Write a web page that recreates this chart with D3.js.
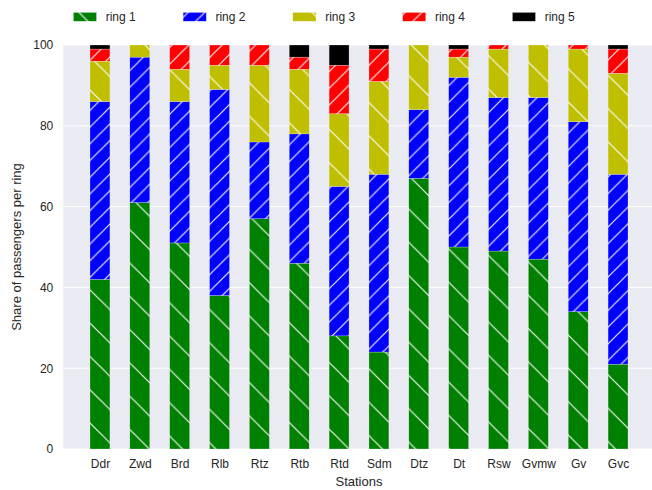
<!DOCTYPE html>
<html>
<head>
<meta charset="utf-8">
<script src="https://cdn.jsdelivr.net/npm/d3@7"></script>
<style>
  html, body { margin: 0; padding: 0; background: #fff; }
  svg { display: block; font-family: "Liberation Sans", Arial, sans-serif; }
</style>
</head>
<body>
<svg id="chart" width="652" height="490"></svg>
<script>
const stations = ["Ddr","Zwd","Brd","Rlb","Rtz","Rtb","Rtd","Sdm","Dtz","Dt","Rsw","Gvmw","Gv","Gvc"];
const ring1 = [42, 61, 51, 38, 57, 46, 28, 24, 67, 50, 49, 47, 34, 21];
const ring2 = [44, 36, 35, 51, 19, 32, 37, 44, 17, 42, 38, 40, 47, 47];
const ring3 = [10,  3,  8,  6, 19, 16, 18, 23, 16,  5, 12, 13, 18, 25];
const ring4 = [ 3,  0,  6,  5,  5,  3, 12,  8,  0,  2,  1,  0,  1,  6];
const ring5 = [ 1,  0,  0,  0,  0,  3,  5,  1,  0,  1,  0,  0,  0,  1];
const seriesNames = ["ring 1","ring 2","ring 3","ring 4","ring 5"];
const yTicks = [0, 20, 40, 60, 80, 100];

(function () {
const seriesValues = [ring1, ring2, ring3, ring4, ring5];
const colors = ["#008000", "#0000ff", "#bfbf00", "#ff0000", "#000000"];
const hatches = ["back", "fwd", "back", "fwd", null];

const svg = d3.select("#chart");
const pLeft = 63.3, pRight = 654.7, pTop = 45, pBottom = 449;

const x = d3.scaleLinear().domain([-0.92, stations.length - 1 + 0.92]).range([pLeft, pRight]);
const y = d3.scaleLinear().domain([0, 100]).range([pBottom, pTop]);
const step = x(1) - x(0);
const barW = step * 0.5;

// hatch patterns
const defs = svg.append("defs");
function makePattern(id, color, kind, s) {
  const p = defs.append("pattern").attr("id", id)
    .attr("patternUnits", "userSpaceOnUse")
    .attr("width", s).attr("height", s);
  p.append("rect").attr("width", s).attr("height", s).attr("fill", color);
  if (kind) {
    const g = p.append("g").attr("stroke", "#ffffff").attr("stroke-width", 1.2).attr("stroke-opacity", 0.92);
    if (kind === "fwd") {
      g.append("line").attr("x1", -1).attr("y1", s + 1).attr("x2", s + 1).attr("y2", -1);
      g.append("line").attr("x1", -1).attr("y1", 1).attr("x2", 1).attr("y2", -1);
      g.append("line").attr("x1", s - 1).attr("y1", s + 1).attr("x2", s + 1).attr("y2", s - 1);
    } else {
      g.append("line").attr("x1", -1).attr("y1", -1).attr("x2", s + 1).attr("y2", s + 1);
      g.append("line").attr("x1", s - 1).attr("y1", -1).attr("x2", s + 1).attr("y2", 1);
      g.append("line").attr("x1", -1).attr("y1", s - 1).attr("x2", 1).attr("y2", s + 1);
    }
  }
}
seriesNames.forEach((n, i) => {
  const s = hatches[i] === "fwd" ? 16.7 : 33.3;
  makePattern("hatch" + i, colors[i], hatches[i], s);
});

// background
svg.append("rect").attr("x", pLeft).attr("y", pTop)
  .attr("width", pRight - pLeft).attr("height", pBottom - pTop).attr("fill", "#eaeaf2");

// grid
svg.append("g").selectAll("line").data(yTicks).join("line")
  .attr("x1", pLeft).attr("x2", pRight)
  .attr("y1", d => y(d)).attr("y2", d => y(d))
  .attr("stroke", "#ffffff").attr("stroke-width", 1);

// stacked data
const table = stations.map((s, i) => {
  const o = { station: s, idx: i };
  seriesNames.forEach((n, k) => { o[n] = seriesValues[k][i]; });
  return o;
});
const stack = d3.stack().keys(seriesNames)(table);

const gBars = svg.append("g");
stack.forEach((layer, k) => {
  gBars.append("g").selectAll("rect").data(layer.filter(d => d[1] - d[0] > 0)).join("rect")
    .attr("x", d => x(d.data.idx) - barW / 2)
    .attr("width", barW)
    .attr("y", d => y(d[1]))
    .attr("height", d => y(d[0]) - y(d[1]))
    .attr("fill", "url(#hatch" + k + ")")
    .attr("stroke", "#ffffff").attr("stroke-width", 0.4).attr("stroke-opacity", 0.6);
});

// y axis labels
const yAxis = d3.axisLeft(y).tickValues(yTicks).tickSize(0).tickPadding(10);
const gy = svg.append("g").attr("transform", `translate(${pLeft},0)`).call(yAxis);
gy.select(".domain").remove();
gy.selectAll("text").attr("font-size", 12).attr("fill", "#262626")
  .attr("font-family", "'Liberation Sans', Arial, sans-serif");

// x axis labels
const xAxis = d3.axisBottom(x).tickValues(d3.range(stations.length))
  .tickFormat(i => stations[i]).tickSize(0).tickPadding(10);
const gx = svg.append("g").attr("transform", `translate(0,${pBottom})`).call(xAxis);
gx.select(".domain").remove();
gx.selectAll("text").attr("font-size", 12).attr("fill", "#262626")
  .attr("font-family", "'Liberation Sans', Arial, sans-serif");

// axis titles
svg.append("text").attr("x", (pLeft + pRight) / 2).attr("y", 486)
  .attr("text-anchor", "middle").attr("font-size", 13).attr("fill", "#262626")
  .text("Stations");
svg.append("text").attr("transform", `translate(21,${(pTop + pBottom) / 2}) rotate(-90)`)
  .attr("text-anchor", "middle").attr("font-size", 13).attr("fill", "#262626")
  .text("Share of passengers per ring");

// legend
const leg = svg.append("g");
seriesNames.forEach((n, i) => {
  const lx = 73.3 + i * 109.75;
  leg.append("rect").attr("x", lx).attr("y", 12.3).attr("width", 23.3).attr("height", 9)
    .attr("fill", "url(#hatch" + i + ")")
    .attr("stroke", "#ffffff").attr("stroke-width", 0.4);
  leg.append("text").attr("x", lx + 32.4).attr("y", 16.8).attr("dy", "0.35em")
    .attr("font-size", 12).attr("fill", "#262626").text(n);
});
})();
</script>
</body>
</html>
